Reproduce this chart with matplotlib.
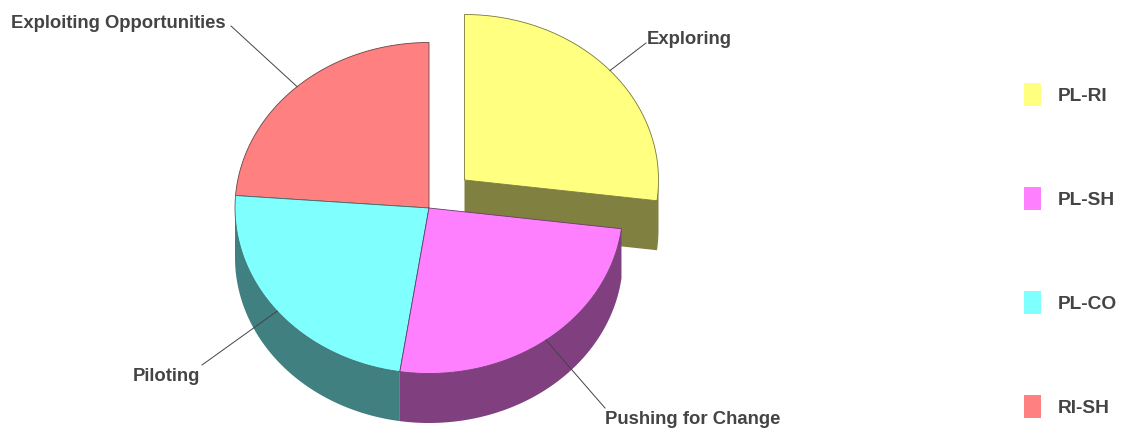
#!/usr/bin/env python3
"""Exploded 3D style pie of four quadrants with a legend at the right."""

import numpy as np
import matplotlib
matplotlib.use("Agg")
import matplotlib.pyplot as plt
from matplotlib.patches import Polygon, Rectangle

slice_names = ["Exploring", "Pushing for Change", "Piloting", "Exploiting Opportunities"]
slice_values = [27.0, 25.4, 23.8, 23.8]
legend_names = ["PL-RI", "PL-SH", "PL-CO", "RI-SH"]

TOP_COLORS = ["#ffff80", "#ff80ff", "#80ffff", "#ff8080"]
SIDE_COLORS = ["#808040", "#804080", "#408080", "#804040"]
EDGE_COLORS = ["#77773a", "#6a3a6a", "#3d6a6a", "#6a4444"]
TEXT = "#444444"
LINE = "#444444"

CENTER = np.array([429.0, 209.0])
RX, RY = 194.0, 165.5
DEPTH = 49.5
EXPLODE = [np.array([35.5, -28.0]), np.zeros(2), np.zeros(2), np.zeros(2)]
FONT = ["Liberation Sans", "DejaVu Sans"]
LABEL_SIZE = 13.35
LEGEND_SIZE = 13.8


def arc(center, a0, a1, n=120):
    t = np.radians(np.linspace(a0, a1, n))
    return np.column_stack([center[0] + RX * np.cos(t), center[1] - RY * np.sin(t)])


def draw_slices(ax):
    shares = np.array(slice_values) / sum(slice_values)
    bounds = 90 - np.concatenate([[0], np.cumsum(shares)]) * 360
    down = np.array([0, DEPTH])

    for i in [0, 3, 2, 1]:
        a0, a1 = bounds[i], bounds[i + 1]
        c = CENTER + EXPLODE[i]
        if np.any(EXPLODE[i]):
            # the pulled out slice shows its cut face as well as a bit of rim
            end = arc(c, a1, a1, 1)[0]
            ax.add_patch(Polygon([c, end, end + down, c + down], fc=SIDE_COLORS[i], ec="none", zorder=1))
            rim = arc(c, 0, a1, 20)
            ax.add_patch(Polygon(np.vstack([rim, rim[::-1] + down]), fc=SIDE_COLORS[i], ec="none", zorder=1))
        elif a1 < 0:
            # outer wall, only the part facing the viewer
            wall = arc(c, max(a1, -180), min(a0, 0))
            ax.add_patch(Polygon(np.vstack([wall, wall[::-1] + down]), fc=SIDE_COLORS[i], ec="none", zorder=2))

    for i in [0, 3, 2, 1]:
        c = CENTER + EXPLODE[i]
        top = np.vstack([c, arc(c, bounds[i], bounds[i + 1])])
        ax.add_patch(Polygon(top, fc=TOP_COLORS[i], ec=EDGE_COLORS[i], lw=0.6, zorder=3 if i else 1.5))

    return bounds


def draw_labels(ax, bounds):
    ends = [(646, 44), (605, 409), (202, 366), (231, 27)]
    text_pos = [(646.5, 39, "left"), (605, 420, "left"), (200.5, 377, "right"), (225.5, 23, "right")]
    for i, name in enumerate(slice_names):
        mid = (bounds[i] + bounds[i + 1]) / 2
        start = arc(CENTER + EXPLODE[i], mid, mid, 1)[0]
        ax.plot([start[0], ends[i][0]], [start[1], ends[i][1]], color=LINE, lw=0.7, zorder=4)
        x, y, ha = text_pos[i]
        ax.text(x, y, name, ha=ha, va="center", color=TEXT, fontsize=LABEL_SIZE,
                fontweight="bold", family=FONT, zorder=5)


def draw_legend(ax):
    rows = [95.5, 199.5, 303.5, 407.5]
    for name, color, y in zip(legend_names, TOP_COLORS, rows):
        ax.add_patch(Rectangle((1024, y - 11.5), 17, 23, fc=color, ec="none"))
        ax.text(1058, y + 1, name, ha="left", va="center", color=TEXT, fontsize=LEGEND_SIZE,
                fontweight="bold", family=FONT)


def main():
    fig = plt.figure(figsize=(11.25, 4.31), dpi=100)
    ax = fig.add_axes([0, 0, 1, 1])
    ax.set_xlim(0, 1125)
    ax.set_ylim(431, 0)
    ax.axis("off")
    bounds = draw_slices(ax)
    draw_labels(ax, bounds)
    draw_legend(ax)
    fig.savefig("out.png", dpi=100, facecolor="white")
    plt.close(fig)


if __name__ == "__main__":
    main()
